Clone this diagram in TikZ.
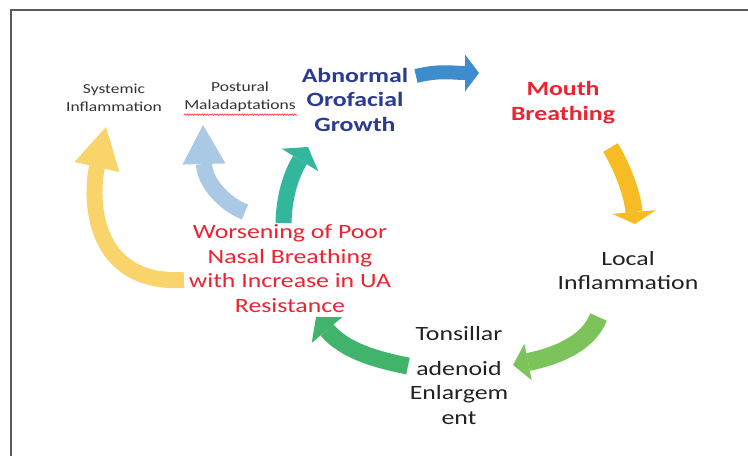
\documentclass[tikz,border=0pt]{standalone}
\usepackage{fontspec}
\setmainfont{Carlito}[FakeStretch=1.27]
\usetikzlibrary{calc,decorations.pathmorphing}
\definecolor{framegray}{HTML}{5A5A5A}
\definecolor{cBlue}{HTML}{3E8BCD}
\definecolor{cGold}{HTML}{F7BB23}
\definecolor{cLGreen}{HTML}{7CC35B}
\definecolor{cGreen}{HTML}{40B46A}
\definecolor{cTeal}{HTML}{33B79C}
\definecolor{cLBlue}{HTML}{A9C9E4}
\definecolor{cYellow}{HTML}{F8D46B}
\definecolor{txtRed}{HTML}{EC2431}
\definecolor{txtNavy}{HTML}{2B3A93}
\definecolor{txtDark}{HTML}{222222}
\definecolor{txtGray}{HTML}{333333}
\newcommand{\blockarrow}[8]{%
  \draw[#1,line width=#2] (#3) .. controls (#4) and ($(#6)!-#5!(#7)$) .. (#6);
  \fill[#1] (#7) -- ($(#6)!#8!90:(#7)$) -- ($(#6)!#8!-90:(#7)$) -- cycle;
}
\begin{document}
\begin{tikzpicture}[x=1pt,y=-1pt,
  txt/.style={align=center,inner sep=0pt},
  smalltxt/.style={txt,text=txtGray,font=\fontsize{13.8}{18}\selectfont},
  bigtxt/.style={txt,font=\fontsize{20.3}{24.5}\selectfont},
  bigbold/.style={txt,font=\fontsize{20.3}{24.5}\selectfont\bfseries}]
\useasboundingbox (0,0) rectangle (748,456);
\fill[white] (0,0) rectangle (748,456);
\draw[framegray,line width=2pt] (11,456) -- (11,10) -- (749,10);

% arrow coordinates
\coordinate (blueS) at (416,76);   \coordinate (blueC) at (440,70);
\coordinate (blueB) at (465,73);   \coordinate (blueT) at (479,73);
\coordinate (goldS) at (610.5,147.5); \coordinate (goldC) at (621,165);
\coordinate (goldB) at (634,212);  \coordinate (goldT) at (635,224);
\coordinate (lgrS) at (598.5,317); \coordinate (lgrC) at (588,345);
\coordinate (lgrB) at (528,362);   \coordinate (lgrT) at (513,365);
\coordinate (grS) at (408,366);    \coordinate (grC) at (378,360);
\coordinate (grB) at (327,330);    \coordinate (grT) at (316,317);
\coordinate (tealS) at (283.5,223); \coordinate (tealC) at (284,200);
\coordinate (tealB) at (300,160);  \coordinate (tealT) at (308,147);
\coordinate (lbS) at (245,212);    \coordinate (lbC) at (224,204);
\coordinate (lbB) at (204,164);    \coordinate (lbT) at (203,125);
\coordinate (yeS) at (184,280);    \coordinate (yeC) at (90,285);
\coordinate (yeB) at (97,167);     \coordinate (yeT) at (106,127);

\blockarrow{cBlue}{14pt}{blueS}{blueC}{12pt}{blueB}{blueT}{18.5pt}
\blockarrow{cGold}{17pt}{goldS}{goldC}{20pt}{goldB}{goldT}{22pt}
\blockarrow{cLGreen}{18pt}{lgrS}{lgrC}{25pt}{lgrB}{lgrT}{18.5pt}
\blockarrow{cGreen}{17pt}{grS}{grC}{28pt}{grB}{grT}{20pt}
\blockarrow{cTeal}{16pt}{tealS}{tealC}{20pt}{tealB}{tealT}{21.5pt}
\blockarrow{cLBlue}{16pt}{lbS}{lbC}{18pt}{lbB}{lbT}{21.5pt}
\blockarrow{cYellow}{16pt}{yeS}{yeC}{30pt}{yeB}{yeT}{23pt}

% texts
\node[smalltxt] (sys) at (114,98) {Systemic\\Inflammation};
\node[smalltxt] (post) at (240,97) {Postural\\Maladaptations};
\draw[red,line width=0.5pt,decorate,decoration={snake,amplitude=0.7pt,segment length=2.5pt}]
  ($(post.south west)+(0,2.5)$) -- ($(post.south east)+(1,2.5)$);
\node[bigbold,text=txtNavy] (abn) at (355,99.5) {Abnormal\\Orofacial\\Growth};
\node[bigbold,text=txtRed] (mouth) at (563,102.5) {Mouth\\Breathing};
\node[bigtxt,text=txtDark] (local) at (628,270.5) {Local\\Inflammation};
\node[bigtxt,text=txtRed] (wors) at (290,268.5) {Worsening of Poor\\Nasal Breathing\\with Increase in UA\\Resistance};
\node[bigtxt,text=txtDark] (tons) at (459,375.5) {Tonsillar\\[10pt]adenoid\\Enlargem\\ent};
\end{tikzpicture}
\end{document}
